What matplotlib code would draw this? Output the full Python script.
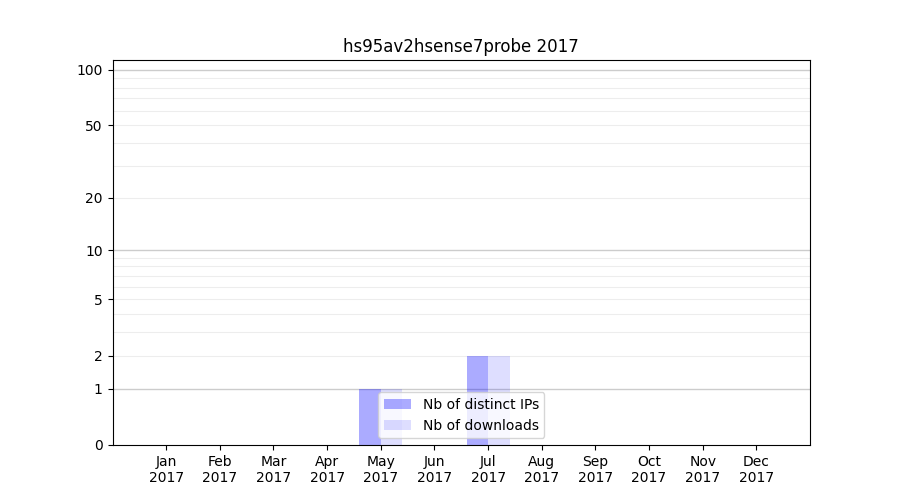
import matplotlib
matplotlib.use("Agg")
import matplotlib.pyplot as plt
import numpy as np

months = ["Jan", "Feb", "Mar", "Apr", "May", "Jun",
          "Jul", "Aug", "Sep", "Oct", "Nov", "Dec"]
year = "2017"
distinct_ips = [0, 0, 0, 0, 1, 0, 2, 0, 0, 0, 0, 0]
downloads = [0, 0, 0, 0, 1, 0, 2, 0, 0, 0, 0, 0]

def fwd(y):
    return np.log10(1 + np.clip(y, 0, None))

def inv(y):
    return 10 ** y - 1

fig, ax = plt.subplots(figsize=(9, 5), dpi=100)
x = np.arange(1, len(months) + 1)
w = 0.4
ax.bar(x - w / 2, distinct_ips, width=w, color="blue", alpha=0.33,
       label="Nb of distinct IPs", zorder=2)
ax.bar(x + w / 2, downloads, width=w, color="blue", alpha=0.13,
       label="Nb of downloads", zorder=2)

ax.set_yscale("function", functions=(fwd, inv))
ax.set_ylim(0, 113)
ax.set_xlim(0, 13)

ax.set_yticks([0, 1, 2, 5, 10, 20, 50, 100])
ax.set_yticklabels(["0", "1", "2", "5", "10", "20", "50", "100"])
minor = [3, 4, 6, 7, 8, 9, 30, 40, 60, 70, 80, 90]
ax.set_yticks(minor, minor=True)
ax.tick_params(axis="y", which="minor", length=0)
for v in [1, 10, 100]:
    ax.axhline(v, color="0.8", lw=1, zorder=1)
for v in [2, 3, 4, 5, 6, 7, 8, 9, 20, 30, 40, 50, 60, 70, 80, 90]:
    ax.axhline(v, color="0.93", lw=0.8, zorder=1)

ax.set_xticks(x)
ax.set_xticklabels([m + "\n" + year for m in months])
ax.set_title("hs95av2hsense7probe 2017")
ax.legend(loc="lower center")

plt.savefig("out.png")
